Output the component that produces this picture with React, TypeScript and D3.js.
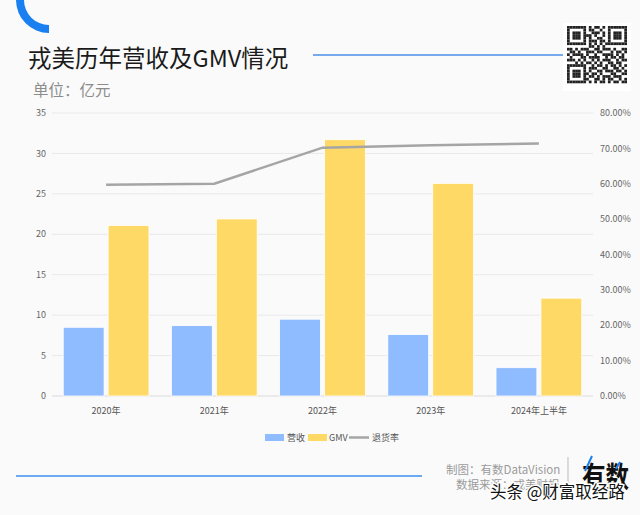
import React from "react";
import * as d3 from "d3";

// chart data
const categories = ["2020年", "2021年", "2022年", "2023年", "2024年上半年"];
const revenue = [8.5, 8.7, 9.5, 7.6, 3.5]; // 营收, 亿元
const gmv = [21.1, 21.9, 31.7, 26.3, 12.1]; // GMV, 亿元
const returnRate = [0.597, 0.6, 0.702, 0.709, 0.714]; // 退货率
const leftTicks = [0, 5, 10, 15, 20, 25, 30, 35];
const rightTicks = [0, 0.1, 0.2, 0.3, 0.4, 0.5, 0.6, 0.7, 0.8];
const seriesNames = ["营收", "GMV"];

const W = 640;
const H = 515;
const FONT = "'Noto Sans CJK SC', 'Noto Sans', sans-serif";

const BLUE = "#8fbbff";
const YELLOW = "#ffd966";
const GREY_LINE = "#a5a5a5";

// fake QR-ish pattern for the decoration in the corner
const qrRows = [
  "1111111010110101111111",
  "1000001011001001000001",
  "1011101001110101011101",
  "1011101110100101011101",
  "1011101010011001011101",
  "1000001011101101000001",
  "1111111010101011111111",
  "0000000011010100000000",
  "1101011100110111010011",
  "0110100111011000101101",
  "1011110100100111101010",
  "0100011011110010110110",
  "1110101001010111001011",
  "0001010110101001101100",
  "1111111001011010110101",
  "1000001011100110011010",
  "1011101010011011101101",
  "1011101101101000110011",
  "1011101011010111011100",
  "1000001100110101100101",
  "1111111010101101011011",
];

const App = () => {
  const left = 52;
  const right = 593;
  const top = 113;
  const bottom = 396;

  const x = d3.scaleBand<string>().domain(categories).range([left, right]);
  const inner = d3
    .scaleBand<string>()
    .domain(seriesNames)
    .range([0, x.bandwidth()])
    .paddingInner(0.09)
    .paddingOuter(0.25);
  const yLeft = d3.scaleLinear().domain([0, 35]).range([bottom, top]);
  const yRight = d3.scaleLinear().domain([0, 0.8]).range([bottom, top]);

  const line = d3
    .line<number>()
    .x((_, i) => (x(categories[i]) as number) + x.bandwidth() / 2)
    .y((d) => yRight(d));

  const arc = d3
    .arc()
    .innerRadius(25)
    .outerRadius(33)
    .startAngle(Math.PI)
    .endAngle(Math.PI * 1.5);

  const qrCell = 60 / qrRows[0].length;

  return (
    <svg
      width={W}
      height={H}
      style={{ position: "absolute", left: 0, top: 0, fontFamily: FONT }}
    >
      <rect width={W} height={H} fill="#fafafa" />

      {/* corner decoration */}
      <path d={arc({} as any) as string} transform="translate(49,0)" fill="#1a7ff0" />

      {/* title */}
      <text x={28} y={67} fontSize={23.5} fill="#1a1a1a">
        戎美历年营收及GMV情况
      </text>
      <line x1={313} x2={563} y1={55} y2={55} stroke="#4a8fe8" strokeWidth={1.5} />
      <text x={33} y={96} fontSize={15.5} fill="#8c8c8c">
        单位：亿元
      </text>

      {/* QR decoration */}
      <rect x={563} y={23} width={68} height={68} fill="#ffffff" />
      {qrRows.map((row, r) =>
        row.split("").map((c, k) =>
          c === "1" ? (
            <rect
              key={`${r}-${k}`}
              x={567 + k * qrCell}
              y={26 + r * qrCell}
              width={qrCell}
              height={qrCell}
              fill="#222"
            />
          ) : null
        )
      )}

      {/* gridlines */}
      {leftTicks.map((t) => (
        <line
          key={t}
          x1={left}
          x2={right}
          y1={yLeft(t)}
          y2={yLeft(t)}
          stroke={t === 0 ? "#d9d9d9" : "#e9e9e9"}
          strokeWidth={t === 0 ? 1.2 : 1}
        />
      ))}

      {/* left axis */}
      {leftTicks.map((t) => (
        <text
          key={t}
          x={46}
          y={yLeft(t)}
          dy="0.35em"
          textAnchor="end"
          fontSize={9}
          fill="#666"
        >
          {t}
        </text>
      ))}

      {/* right axis */}
      {rightTicks.map((t) => (
        <text
          key={t}
          x={600}
          y={yRight(t)}
          dy="0.35em"
          fontSize={9}
          fill="#666"
        >
          {d3.format(".2%")(t)}
        </text>
      ))}

      {/* bars */}
      {categories.map((c, i) => {
        const x0 = x(c) as number;
        return (
          <g key={c}>
            <rect
              x={x0 + (inner("营收") as number)}
              y={yLeft(revenue[i])}
              width={inner.bandwidth()}
              height={bottom - yLeft(revenue[i])}
              fill={BLUE}
              stroke="#fff"
              strokeWidth={0.8}
            />
            <rect
              x={x0 + (inner("GMV") as number)}
              y={yLeft(gmv[i])}
              width={inner.bandwidth()}
              height={bottom - yLeft(gmv[i])}
              fill={YELLOW}
              stroke="#fff"
              strokeWidth={0.8}
            />
            <text
              x={x0 + x.bandwidth() / 2}
              y={414}
              textAnchor="middle"
              fontSize={9}
              fill="#555"
            >
              {c}
            </text>
          </g>
        );
      })}

      {/* return rate line */}
      <path d={line(returnRate) as string} fill="none" stroke={GREY_LINE} strokeWidth={2.5} />

      {/* legend */}
      <g fontSize={9} fill="#555">
        <rect x={265} y={434} width={19} height={7} fill={BLUE} />
        <text x={287} y={441}>营收</text>
        <rect x={308} y={434} width={19} height={7} fill={YELLOW} />
        <text x={329} y={441}>GMV</text>
        <line x1={349} x2={369} y1={437.5} y2={437.5} stroke={GREY_LINE} strokeWidth={2.5} />
        <text x={372} y={441}>退货率</text>
      </g>

      {/* footer */}
      <line x1={16} x2={422} y1={476} y2={476} stroke="#3d8ef0" strokeWidth={1.5} />
      <text x={446} y={474} fontSize={11.5} fill="#9a9a9a">
        制图：有数DataVision
      </text>
      <text x={456} y={489} fontSize={11.5} fill="#9a9a9a">
        数据来源：戎美财报
      </text>
      <line x1={568} x2={568} y1={457} y2={491} stroke="#bbb" strokeWidth={1} />
      <text
        x={582}
        y={488}
        fontSize={29}
        fontWeight={700}
        fill="#111"
        textLength={47}
        lengthAdjust="spacingAndGlyphs"
      >
        有数
      </text>
      <line x1={585} x2={592} y1={471} y2={456} stroke="#1a7ff0" strokeWidth={2} />
      <line x1={616} x2={620} y1={469} y2={462} stroke="#1a7ff0" strokeWidth={2} />
      <text
        x={490}
        y={498}
        fontSize={16.5}
        fill="#111"
        stroke="#fff"
        strokeWidth={3}
        paintOrder="stroke"
      >
        头条 @财富取经路
      </text>
    </svg>
  );
};

export default App;
